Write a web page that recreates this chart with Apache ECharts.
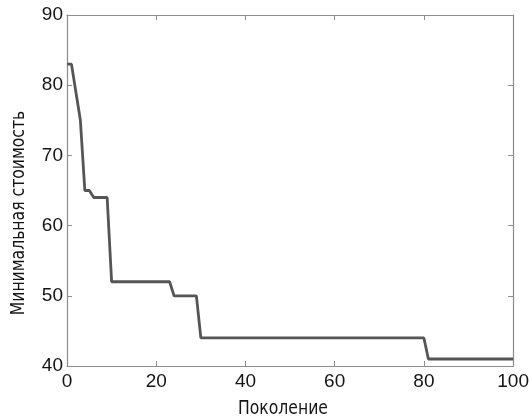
<!DOCTYPE html>
<html>
<head>
<meta charset="utf-8">
<script src="https://cdn.jsdelivr.net/npm/echarts@6/dist/echarts.min.js"></script>
<style>
  html, body { margin: 0; padding: 0; background: #fff; }
  #chart { width: 532px; height: 418px; }
</style>
</head>
<body>
<div id="chart"></div>
<script>
// Minimum cost found at each generation of the genetic algorithm
const generations = [];
for (let g = 0; g <= 100; g++) generations.push(g);

const minCost = [
  83, 83, 79, 75, 65, 65, 64, 64, 64, 64,
  52, 52, 52, 52, 52, 52, 52, 52, 52, 52,
  52, 52, 52, 52, 50, 50, 50, 50, 50, 50,
  44, 44, 44, 44, 44, 44, 44, 44, 44, 44,
  44, 44, 44, 44, 44, 44, 44, 44, 44, 44,
  44, 44, 44, 44, 44, 44, 44, 44, 44, 44,
  44, 44, 44, 44, 44, 44, 44, 44, 44, 44,
  44, 44, 44, 44, 44, 44, 44, 44, 44, 44,
  44, 41, 41, 41, 41, 41, 41, 41, 41, 41,
  41, 41, 41, 41, 41, 41, 41, 41, 41, 41,
  41
];

const xTitle = 'Поколение';
const yTitle = 'Минимальная стоимость';

const axisGrey = '#8c8c8c';
const tickFont = { fontFamily: 'Liberation Sans, Arial, sans-serif', fontSize: 19, color: '#151515' };
const titleFont = '19px "DejaVu Sans Condensed", Roboto, sans-serif';

const chart = echarts.init(document.getElementById('chart'), null, { renderer: 'canvas' });

function boxAxis(extra) {
  return Object.assign({
    type: 'value',
    axisLine: { show: true, onZero: false, lineStyle: { color: axisGrey, width: 1.2 } },
    axisTick: { show: true, inside: true, length: 5, lineStyle: { color: axisGrey } },
    splitLine: { show: false }
  }, extra);
}

chart.setOption({
  animation: false,
  backgroundColor: '#fff',
  grid: { left: 67, right: 18, top: 15, bottom: 52 },
  xAxis: [
    boxAxis({
      min: 0, max: 100, interval: 20,
      axisLabel: Object.assign({ margin: 6 }, tickFont)
    }),
    boxAxis({ min: 0, max: 100, interval: 20, position: 'top', axisLabel: { show: false } })
  ],
  yAxis: [
    boxAxis({
      min: 40, max: 90, interval: 10,
      axisLabel: Object.assign({ margin: 4 }, tickFont)
    }),
    boxAxis({ min: 40, max: 90, interval: 10, position: 'right', axisLabel: { show: false } })
  ],
  graphic: [
    {
      type: 'text',
      x: 283, y: 409,
      scaleX: 0.915,
      style: {
        text: xTitle, font: titleFont, fill: '#151515',
        align: 'center', verticalAlign: 'middle'
      }
    },
    {
      type: 'text',
      x: 19, y: 213,
      rotation: Math.PI / 2,
      scaleX: 0.915,
      style: {
        text: yTitle, font: titleFont, fill: '#151515',
        align: 'center', verticalAlign: 'middle'
      }
    }
  ],
  series: [{
    type: 'line',
    data: generations.map((g, i) => [g, minCost[i]]),
    showSymbol: false,
    lineStyle: { color: '#555', width: 2.8 },
    z: 3
  }]
});
</script>
</body>
</html>
